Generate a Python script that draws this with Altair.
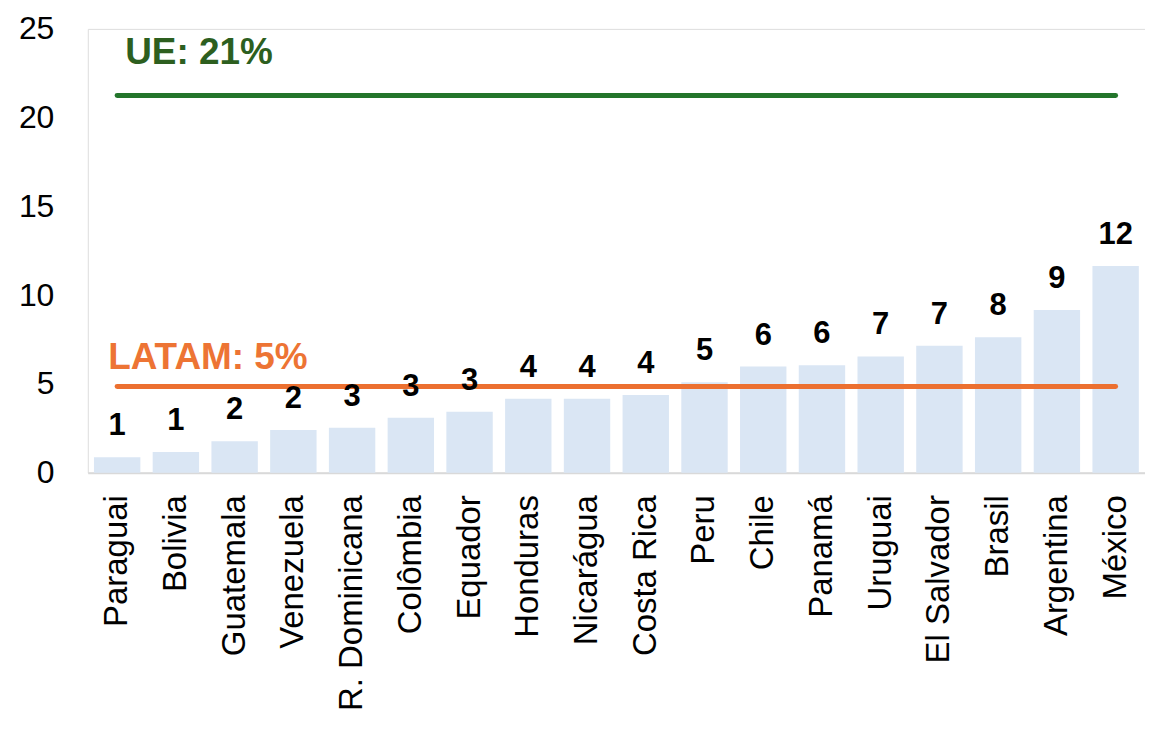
import altair as alt
import pandas as pd

countries = ["Paraguai", "Bolivia", "Guatemala", "Venezuela", "R. Dominicana", "Colômbia",
             "Equador", "Honduras", "Nicarágua", "Costa Rica", "Peru", "Chile", "Panamá",
             "Uruguai", "El Salvador", "Brasil", "Argentina", "México"]
values = [0.87, 1.16, 1.77, 2.40, 2.53, 3.10, 3.43, 4.16, 4.16, 4.38, 5.10, 5.98, 6.06,
          6.55, 7.15, 7.63, 9.16, 11.65]
labels = ["1", "1", "2", "2", "3", "3", "3", "4", "4", "4", "5", "6", "6", "7", "7", "8", "9", "12"]

ue_value = 21.25
ue_text = "UE: 21%"
latam_value = 4.85
latam_text = "LATAM: 5%"

FONT = "Liberation Sans"

df = pd.DataFrame({"pais": countries, "valor": values, "rotulo": labels})
lines_df = pd.DataFrame({
    "pais": [countries[0], countries[-1], countries[0], countries[-1]],
    "valor": [ue_value, ue_value, latam_value, latam_value],
    "serie": ["UE", "UE", "LATAM", "LATAM"],
})
ue_lab = pd.DataFrame({"pais": [countries[0]], "valor": [ue_value], "t": [ue_text]})
la_lab = pd.DataFrame({"pais": [countries[0]], "valor": [latam_value], "t": [latam_text]})

x_enc = alt.X("pais:N", sort=countries, title=None,
              scale=alt.Scale(paddingInner=0.21, paddingOuter=0.105),
              axis=alt.Axis(labelAngle=-90, labelFontSize=33, labelFont=FONT,
                            labelColor="#000000", labelPadding=22, ticks=False, labelLimit=0,
                            domainColor="#d9d9d9", domainWidth=2, grid=False))
y_enc = alt.Y("valor:Q", title=None,
              scale=alt.Scale(domain=[0, 25], nice=False, zero=True),
              axis=alt.Axis(values=[0, 5, 10, 15, 20, 25], labelFontSize=32, labelFont=FONT,
                            labelColor="#000000", labelPadding=34, ticks=False,
                            domain=False, grid=False))

bars = alt.Chart(df).mark_bar(color="#dae6f4").encode(x=x_enc, y=y_enc)

nums = alt.Chart(df).mark_text(baseline="alphabetic", dy=-22, fontSize=31, fontWeight="bold",
                               font=FONT, color="#000000").encode(
    x=alt.X("pais:N", sort=countries), y="valor:Q", text="rotulo:N")

ue_line = alt.Chart(lines_df[lines_df.serie == "UE"]).mark_line(
    color="#23752b", strokeWidth=5, strokeCap="round").encode(
    x=alt.X("pais:N", sort=countries), y="valor:Q")
la_line = alt.Chart(lines_df[lines_df.serie == "LATAM"]).mark_line(
    color="#ec7030", strokeWidth=5, strokeCap="round").encode(
    x=alt.X("pais:N", sort=countries), y="valor:Q")

ue_t = alt.Chart(ue_lab).mark_text(align="left", baseline="alphabetic", dx=8, dy=-32,
                                   fontSize=37, fontWeight="bold", font=FONT,
                                   color="#2d5f1f").encode(
    x=alt.X("pais:N", sort=countries), y="valor:Q", text="t:N")
la_t = alt.Chart(la_lab).mark_text(align="left", baseline="alphabetic", dx=-9, dy=-18,
                                   fontSize=37, fontWeight="bold", font=FONT,
                                   color="#ed7434").encode(
    x=alt.X("pais:N", sort=countries), y="valor:Q", text="t:N")

chart = alt.layer(bars, la_line, nums, ue_line, ue_t, la_t).properties(
    width=1060, height=445,
    autosize=alt.AutoSizeParams(type="none"),
    padding={"left": 80, "top": 20, "right": 0, "bottom": 250},
).configure_view(stroke=None).configure(background="#ffffff")

chart.save("out.html", embed_options={"renderer": "svg", "actions": False})
